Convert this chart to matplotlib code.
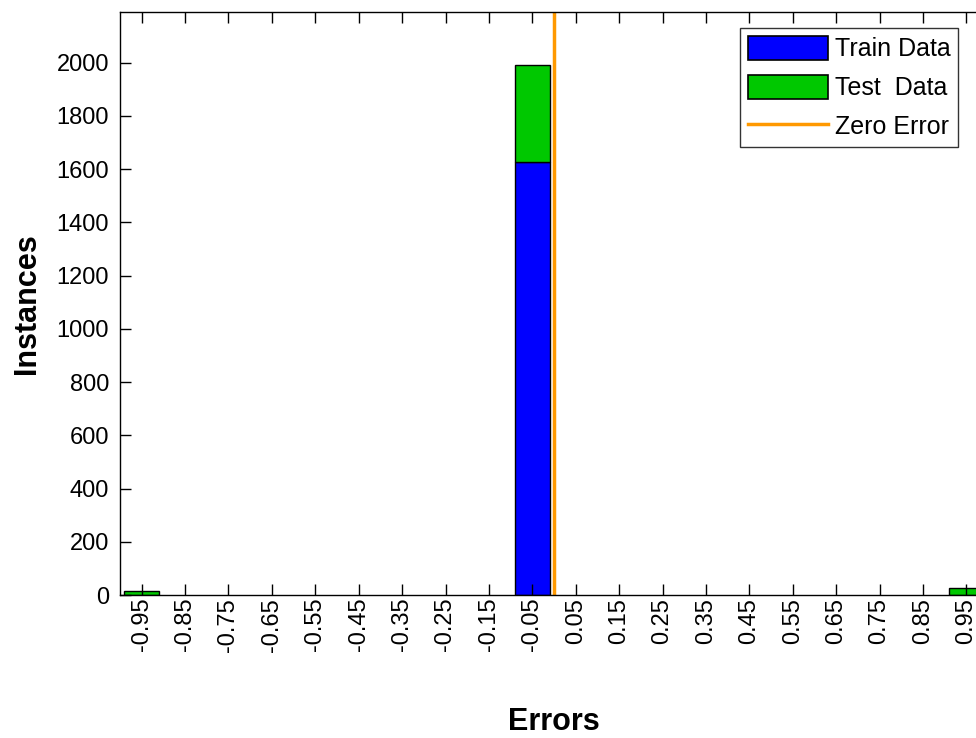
import numpy as np
import matplotlib.pyplot as plt
from matplotlib.patches import Patch
from matplotlib.lines import Line2D

plt.rcParams["font.family"] = ["Liberation Sans", "DejaVu Sans"]

# error histogram, 20 bins between -1 and 1
bin_centers = [-0.95, -0.85, -0.75, -0.65, -0.55, -0.45, -0.35, -0.25, -0.15, -0.05,
               0.05, 0.15, 0.25, 0.35, 0.45, 0.55, 0.65, 0.75, 0.85, 0.95]
train_counts = [0, 0, 0, 0, 0, 0, 0, 0, 0, 1625,
                0, 0, 0, 0, 0, 0, 0, 0, 0, 0]
test_counts = [14, 0, 0, 0, 0, 0, 0, 0, 0, 367,
               0, 0, 0, 0, 0, 0, 0, 0, 0, 25]
tick_labels = ["%.2f" % c for c in bin_centers]

x = np.array(bin_centers)
tr = np.array(train_counts)
te = np.array(test_counts)

W, H = 976, 738
fig = plt.figure(figsize=(W / 100, H / 100), dpi=100)
# the axes run a little past the right edge of the figure
ax = fig.add_axes([120 / W, 1 - 595 / H, 868 / W, 583 / H])

bw = 0.082
# skip empty bins so no flat outlines sit on the baseline
m = tr > 0
ax.bar(x[m], tr[m], width=bw, color="#0000ff", edgecolor="black", linewidth=1)
m = te > 0
ax.bar(x[m], te[m], width=bw, bottom=tr[m], color="#00c800",
       edgecolor="black", linewidth=1)
ax.axvline(0, color="#ff9900", linewidth=2.5)

ax.set_xlim(-1.0, 1.0)
ax.set_ylim(0, 2190)
ax.set_xticks(bin_centers)
ax.set_xticklabels(tick_labels, rotation=90)
ax.set_yticks(np.arange(0, 2001, 200))
ax.tick_params(direction="in", length=8, width=1, labelsize=17, top=True, right=True,
               colors="black")
ax.tick_params(axis="x", pad=2)
ax.tick_params(axis="y", pad=8)
for s in ax.spines.values():
    s.set_linewidth(1)

ax.set_ylabel("Instances", fontsize=22, fontweight="bold", labelpad=10)
ax.set_xlabel("Errors", fontsize=22, fontweight="bold", labelpad=40)

handles = [Patch(facecolor="#0000ff", edgecolor="black", linewidth=1.2),
           Patch(facecolor="#00c800", edgecolor="black", linewidth=1.2),
           Line2D([0], [0], color="#ff9900", linewidth=2.5)]
leg = fig.legend(handles, ["Train Data", "Test  Data", "Zero Error"],
                 loc="upper left", bbox_to_anchor=(740 / W, 1 - 28 / H),
                 fontsize=18, frameon=True, fancybox=False, shadow=False,
                 handlelength=3.2, handleheight=1.1, handletextpad=0.3,
                 labelspacing=0.55, borderpad=0.3, borderaxespad=0)
leg.get_frame().set_edgecolor("black")
leg.get_frame().set_linewidth(1)

fig.savefig("out.png", dpi=100)
